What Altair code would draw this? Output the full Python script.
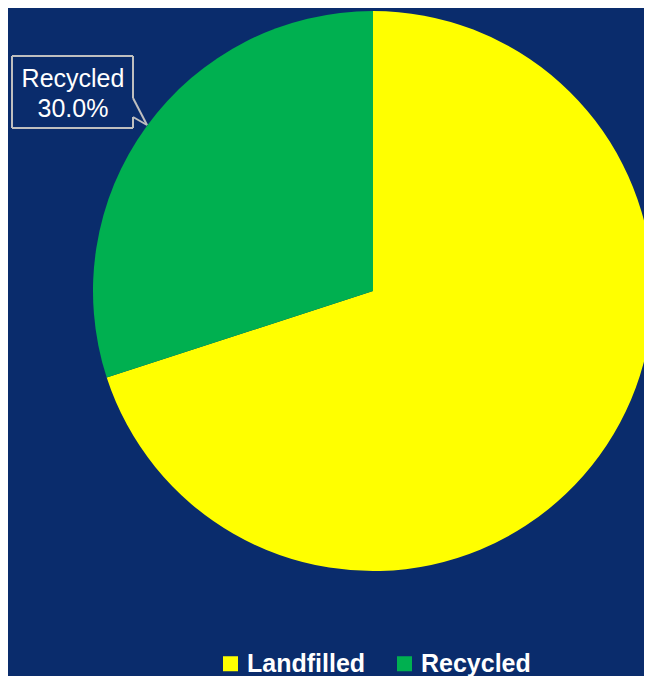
import altair as alt
import pandas as pd

categories = ["Landfilled", "Recycled"]
values = [70, 30]
colors = ["#FFFF00", "#00B050"]
bg = "#0A2C6C"

total = sum(values)
pie_df = pd.DataFrame({"category": categories, "value": values, "order": [0, 1]})
label_df = pd.DataFrame({
    "text": [[categories[1], f"{values[1] / total * 100:.1f}%"]]
})

OX, OY = 8, 8  # page margin offset

pie = alt.Chart(pie_df).mark_arc(outerRadius=280, stroke=None).encode(
    theta=alt.Theta("value:Q", stack=True),
    order=alt.Order("order:Q"),
    color=alt.Color(
        "category:N",
        scale=alt.Scale(domain=categories, range=colors),
        legend=alt.Legend(
            title=None, orient="none", direction="horizontal",
            legendX=218 - OX, legendY=651 - OY, padding=0,
            symbolType="square", symbolSize=225, symbolStrokeWidth=0,
            labelFont="Liberation Sans", labelFontSize=25, labelFontWeight="bold",
            labelColor="white", labelOffset=4, labelLimit=400, columnPadding=26,
        ),
    ),
    x=alt.value(373 - OX),
    y=alt.value(291 - OY),
)

stroke = "#BFBFBF"
seg_src = pd.DataFrame({"k": [0]})


def seg(x1, y1, x2, y2):
    return alt.Chart(seg_src).mark_rule(color=stroke, strokeWidth=2).encode(
        x=alt.value(x1 - OX), y=alt.value(y1 - OY),
        x2=alt.value(x2 - OX), y2=alt.value(y2 - OY),
    )


L, T, R, B = 12, 56, 133, 128
segs = [
    seg(L, T, R, T),
    seg(L, T, L, B),
    seg(L, B, R, B),
    seg(R, T, R, 98),
    seg(R, 98, 147, 125),
    seg(147, 125, R, 117),
    seg(R, 117, R, B),
]

label = alt.Chart(label_df).mark_text(
    font="Liberation Sans", fontSize=25, color="white",
    lineHeight=30, baseline="middle", align="center",
).encode(
    text="text",
    x=alt.value(73 - OX),
    y=alt.value(79 - OY),
)

chart = alt.layer(pie, *segs, label).properties(
    width=636, height=668,
    background=bg,
    padding=0,
    autosize=alt.AutoSizeParams(type="none"),
).configure_view(stroke=None)

chart.save("out.html", embed_options={"renderer": "svg", "actions": False})
